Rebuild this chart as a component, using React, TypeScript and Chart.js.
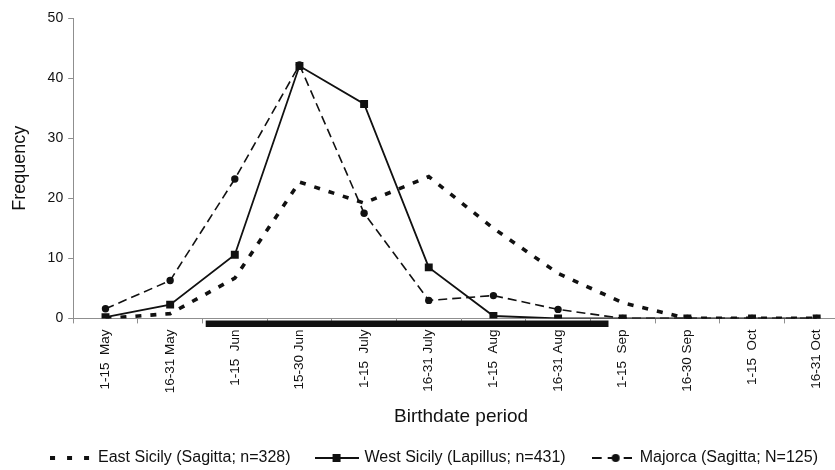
import React, { useEffect, useRef } from 'react';
import { Chart, registerables } from 'chart.js';

Chart.register(...registerables);

// ---- data ----
const categories = [
  '1-15  May', '16-31 May', '1-15  Jun', '15-30 Jun', '1-15  July', '16-31 July',
  '1-15  Aug', '16-31 Aug', '1-15  Sep', '16-30 Sep', '1-15  Oct', '16-31 Oct',
];
const eastSicily = [0, 0.8, 6.7, 22.7, 19.2, 23.6, 15, 7.5, 2.6, 0, 0, 0];
const westSicily = [0.2, 2.3, 10.6, 42, 35.7, 8.5, 0.4, 0, 0, 0, 0, 0];
const majorca = [1.6, 6.3, 23.2, 42.2, 17.5, 3, 3.8, 1.5, 0, 0, 0, 0];
const seriesNames = [
  'East Sicily (Sagitta; n=328)',
  'West Sicily (Lapillus; n=431)',
  'Majorca (Sagitta; N=125)',
];
const yTickStep = 10;
const yMin = 0;
const yMax = 50;
// horizontal black band below the axis (category positions)
const spawningPeriod = [1.55, 7.78];
const spawningBarLevel = -0.9;

const FONT = '"Liberation Sans", Arial, Helvetica, sans-serif';
const INK = '#111111';
const AXIS = '#8f8f8f';

function makeSample(kind: string): HTMLCanvasElement {
  const c = document.createElement('canvas');
  c.width = kind === 'west' ? 44 : 40;
  c.height = 10;
  const g = c.getContext('2d')!;
  g.strokeStyle = INK;
  g.fillStyle = INK;
  if (kind === 'east') {
    g.lineWidth = 4;
    g.setLineDash([5, 12]);
    g.beginPath();
    g.moveTo(0, 5);
    g.lineTo(40, 5);
    g.stroke();
  } else if (kind === 'west') {
    g.lineWidth = 2;
    g.beginPath();
    g.moveTo(0, 5);
    g.lineTo(44, 5);
    g.stroke();
    g.fillRect(18, 1, 8, 8);
  } else {
    g.lineWidth = 1.8;
    g.setLineDash([10, 6]);
    g.beginPath();
    g.moveTo(0, 5);
    g.lineTo(40, 5);
    g.stroke();
    g.beginPath();
    g.arc(24, 5, 4, 0, Math.PI * 2);
    g.fill();
  }
  return c;
}

export default function App() {
  const ref = useRef<HTMLCanvasElement>(null);

  useEffect(() => {
    const canvas = ref.current;
    if (!canvas) return;
    const samples = [makeSample('east'), makeSample('west'), makeSample('majorca')];

    const chart = new Chart(canvas, {
      type: 'line',
      data: {
        labels: categories,
        datasets: [
          {
            label: seriesNames[0],
            data: eastSicily,
            borderColor: INK,
            borderWidth: 3.6,
            borderDash: [6, 9],
            borderCapStyle: 'butt',
            pointRadius: 0,
            fill: false,
            order: 2,
          },
          {
            label: seriesNames[1],
            data: westSicily,
            borderColor: INK,
            borderWidth: 1.8,
            pointStyle: 'rect',
            pointRadius: 5.6,
            pointBackgroundColor: INK,
            pointBorderWidth: 0,
            fill: false,
            order: 0,
          },
          {
            label: seriesNames[2],
            data: majorca,
            borderColor: INK,
            borderWidth: 1.6,
            borderDash: [9, 5],
            pointStyle: 'circle',
            pointRadius: 3.7,
            pointBackgroundColor: INK,
            pointBorderWidth: 0,
            fill: false,
            order: 1,
          },
          {
            label: 'band',
            data: spawningPeriod.map((x) => ({ x, y: spawningBarLevel })),
            xAxisID: 'xb',
            yAxisID: 'y',
            borderColor: INK,
            borderWidth: 6.5,
            borderCapStyle: 'butt',
            pointRadius: 0,
            fill: false,
            clip: false,
            order: 3,
          } as any,
        ],
      },
      options: {
        animation: false,
        responsive: false,
        events: [],
        layout: { padding: { left: 19, right: 19, top: 18, bottom: 0 } },
        plugins: {
          legend: {
            position: 'bottom',
            labels: {
              usePointStyle: true,
              pointStyleWidth: 40,
              boxHeight: 10,
              padding: 26,
              color: INK,
              font: { size: 16, family: FONT },
              generateLabels: () =>
                seriesNames.map((t, i) => ({
                  text: t,
                  pointStyle: samples[i],
                  fillStyle: 'transparent',
                  strokeStyle: 'transparent',
                  lineWidth: 0,
                  hidden: false,
                  datasetIndex: i,
                  fontColor: INK,
                })) as any,
            },
          },
          tooltip: { enabled: false },
        },
        scales: {
          x: {
            type: 'category',
            offset: true,
            grid: {
              offset: true,
              drawOnChartArea: false,
              drawTicks: true,
              tickLength: 5,
              color: AXIS,
            },
            border: { color: AXIS, width: 1 },
            ticks: {
              autoSkip: false,
              minRotation: 90,
              maxRotation: 90,
              padding: 6,
              color: INK,
              font: { size: 13.5, family: FONT },
            },
            title: {
              display: true,
              text: 'Birthdate period',
              color: INK,
              font: { size: 19, family: FONT },
              padding: { top: 6, bottom: -4 },
            },
          },
          xb: {
            type: 'linear',
            display: false,
            min: -0.5,
            max: categories.length - 0.5,
          },
          y: {
            min: yMin,
            max: yMax,
            ticks: {
              stepSize: yTickStep,
              padding: 5,
              color: INK,
              font: { size: 14, family: FONT },
            },
            grid: { drawOnChartArea: false, tickLength: 5, color: AXIS },
            border: { color: AXIS, width: 1 },
            title: {
              display: true,
              text: 'Frequency',
              color: INK,
              font: { size: 18, family: FONT },
              padding: { top: -10, bottom: 12 },
            },
          },
        },
      } as any,
    });

    return () => chart.destroy();
  }, []);

  return (
    <div
      style={{
        position: 'absolute',
        left: 0,
        top: 0,
        width: 835,
        height: 470,
        overflow: 'hidden',
        background: '#fff',
      }}
    >
      <canvas ref={ref} width={868} height={476} style={{ display: 'block', width: 868, height: 476 }} />
    </div>
  );
}
